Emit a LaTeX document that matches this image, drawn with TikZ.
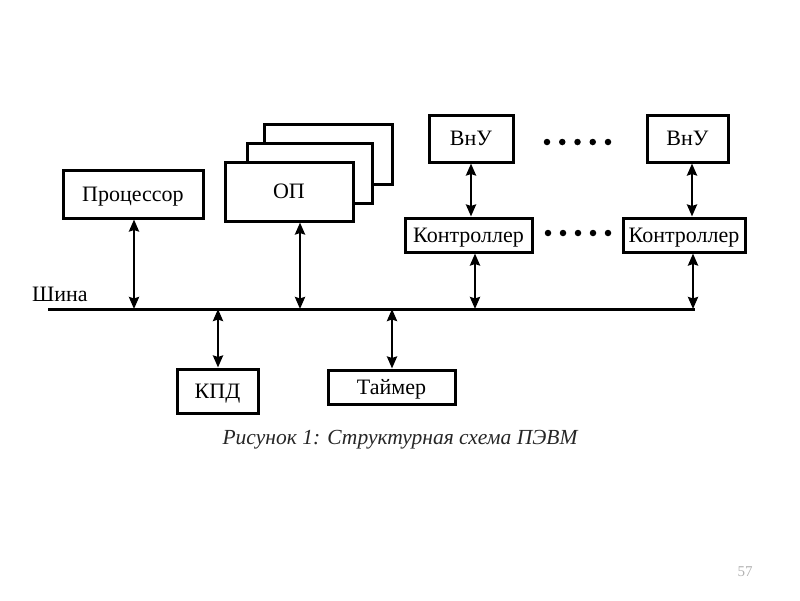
\documentclass[tikz,border=0pt]{standalone}
\usepackage{fontspec}
\setmainfont{Liberation Serif}
\usetikzlibrary{arrows.meta}
\begin{document}
\begin{tikzpicture}[x=1pt,y=-1pt,
  box/.style={draw=black, line width=3pt, fill=white, inner sep=0pt, font=\fontsize{22}{25}\selectfont, text depth=0pt},
  arr/.style={line width=2.8pt, {Stealth[length=12pt,width=10pt,inset=1.5pt]}-{Stealth[length=12pt,width=10pt,inset=1.5pt]}},
  dot/.style={fill=black, circle, inner sep=0pt, minimum size=6.5pt}]
\useasboundingbox (0,0) rectangle (800,600);
% memory stack
\node[box, minimum width=128pt, minimum height=60pt] (op3) at (328,154) {};
\node[box, minimum width=125pt, minimum height=60pt] (op2) at (309.5,173) {};
\node[box, minimum width=128pt, minimum height=59pt] (op) at (289,191.5) {ОП};
\node[box, minimum width=140pt, minimum height=48pt] (proc) at (133,194) {Процессор};
\node[box, minimum width=84pt, minimum height=47pt] (vnu1) at (471,138.5) {ВнУ};
\node[box, minimum width=81pt, minimum height=47pt] (vnu2) at (687.5,138.5) {ВнУ};
\node[box, minimum width=127pt, minimum height=34pt] (ctl1) at (468.5,235) {Контроллер};
\node[box, minimum width=122pt, minimum height=34pt] (ctl2) at (684,235) {Контроллер};
\node[box, minimum width=81pt, minimum height=44pt] (kpd) at (217.5,391) {КПД};
\node[box, minimum width=127pt, minimum height=34pt] (tmr) at (391.5,387) {Таймер};
% bus
\coordinate (busL) at (48,309);
\coordinate (busR) at (695,309);
\draw[line width=3pt] (busL) -- (busR);
\node[anchor=south west, inner sep=0pt, font=\fontsize{22}{25}\selectfont] (shina) at (32,302) {Шина};
% connectors
\coordinate (pa) at (134,0);
\coordinate (oa) at (300,0);
\coordinate (ka) at (218,0);
\coordinate (ta) at (392,0);
\coordinate (v1a) at (471,0);
\coordinate (c1a) at (475,0);
\coordinate (v2a) at (692,0);
\coordinate (c2a) at (693,0);
\draw[arr] (pa |- proc.south) -- (pa |- busL);
\draw[arr] (oa |- op.south) -- (oa |- busL);
\draw[arr] (ka |- busL) -- (ka |- kpd.north);
\draw[arr] (ta |- busL) -- (ta |- tmr.north);
\draw[arr] (v1a |- vnu1.south) -- (v1a |- ctl1.north);
\draw[arr] (c1a |- ctl1.south) -- (c1a |- busL);
\draw[arr] (v2a |- vnu2.south) -- (v2a |- ctl2.north);
\draw[arr] (c2a |- ctl2.south) -- (c2a |- busL);
% dots
\foreach \i in {0,...,4} {
  \node[dot] (dt\i) at (547+15.25*\i,142) {};
  \node[dot] (dm\i) at (548+15*\i,233) {};
}
% caption
\node[font=\fontsize{21.5}{24}\selectfont\itshape, inner sep=0pt, text=black!85] (cap) at (400,440) {Рисунок 1: Структурная схема ПЭВМ};
\node[font=\fontsize{15}{17}\selectfont, text=gray!60, inner sep=0pt] (pg) at (745,572) {57};
\end{tikzpicture}
\end{document}
